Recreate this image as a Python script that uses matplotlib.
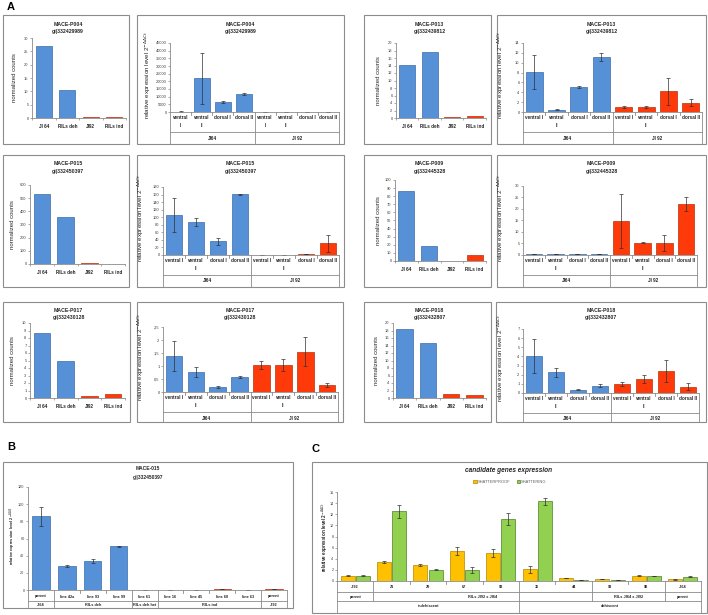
import numpy as np
import matplotlib
matplotlib.use('Agg')
import matplotlib.pyplot as plt
import matplotlib.transforms as mtrans
from matplotlib.patches import Rectangle
from matplotlib.ticker import FuncFormatter

plt.rcParams['font.family'] = ['Liberation Sans', 'DejaVu Sans']
plt.rcParams['mathtext.fontset'] = 'dejavusans'

# ---------------- data ----------------
count_categories = ['JI 64', 'RILs deh', 'JI92', 'RILs ind']
qpcr_tissues = ['ventral I', 'ventral\nII', 'dorsal I', 'dorsal II']
qpcr_tissues_narrow = ['ventral\nI', 'ventral\nII', 'dorsal I', 'dorsal II']
qpcr_parents = ['JI64', 'JI 92']

genes = ['MACE-P004', 'MACE-P013', 'MACE-P015', 'MACE-P009', 'MACE-P017', 'MACE-P018']
gene_ids = ['gi|332429989', 'gi|332439812', 'gi|332450397', 'gi|332445328',
            'gi|332430128', 'gi|332432807']

p004_counts = [27, 10.5, 0.4, 0.4]
p004_qpcr = [300, 22000, 6500, 11500, 150, 150, 150, 150]
p004_err = [80, 16500, 600, 700, 30, 30, 30, 30]

p013_counts = [14.2, 17.7, 0.3, 0.6]
p013_qpcr = [8.1, 0.5, 5.0, 11.1, 1.1, 1.0, 4.2, 1.9]
p013_err = [3.4, 0.05, 0.2, 0.8, 0.2, 0.15, 2.7, 0.7]

p015_counts = [535, 358, 6, 3]
p015_qpcr = [105, 87, 36, 161, 1, 1, 2, 31]
p015_err = [45, 10, 10, 1, 0.3, 0.3, 0.3, 22]

p009_counts = [87, 18, 0.5, 7]
p009_qpcr = [0.3, 0.3, 0.3, 0.3, 14.7, 5.3, 5.2, 22.1]
p009_err = [0.05, 0.05, 0.05, 0.05, 11.7, 0.3, 3.5, 3.0]

p017_counts = [8.7, 5.0, 0.3, 0.6]
p017_qpcr = [1.38, 0.78, 0.2, 0.58, 1.05, 1.03, 1.55, 0.27]
p017_err = [0.58, 0.2, 0.03, 0.04, 0.15, 0.23, 0.55, 0.08]

p018_counts = [18.5, 14.6, 1.1, 0.8]
p018_qpcr = [4.05, 2.25, 0.35, 0.8, 1.0, 1.55, 2.45, 0.7]
p018_err = [1.85, 0.5, 0.05, 0.15, 0.2, 0.45, 1.2, 0.35]

b_title = 'MACE-015'
b_gene_id = 'gi|332450397'
b_lines = ['parent', 'line 42a', 'line 93', 'line 99', 'line 61', 'line 16',
           'line 45', 'line 60', 'line 63', 'parent']
b_groups = ['JI64', 'RILs deh', 'RILs deh het', 'RILs ind', 'JI92']
b_values = [86, 28, 33.5, 51, 0.4, 0.3, 0.3, 1.0, 0.3, 0.9]
b_err = [11, 1, 2.5, 0.8, 0.05, 0.05, 0.05, 0.1, 0.05, 0.1]

c_title = 'candidate genes expression'
c_series = ['SHATTERPROOF', 'SHATTERING']
c_lines = ['JI92', '21', '29', '67', '93', '36', '44', '93', '98', 'JI64']
c_groups = ['parent', 'RILs JI92 x JI64', 'RILs JI64 x JI92', 'parent']
c_phenotypes = ['indehiscent', 'dehiscent']
c_shatterproof = [0.95, 3.4, 2.9, 5.4, 5.0, 2.1, 0.5, 0.35, 0.95, 0.3]
c_shatterproof_err = [0.05, 0.25, 0.15, 0.7, 0.7, 0.6, 0.05, 0.05, 0.05, 0.1]
c_shattering = [0.95, 12.5, 2.0, 2.0, 11.2, 14.3, 0.15, 0.15, 0.95, 0.75]
c_shattering_err = [0.05, 1.1, 0.1, 0.6, 1.1, 0.7, 0.02, 0.02, 0.03, 0.1]

# ---------------- style ----------------
W, H = 708, 615
BLUE, BLUE_E = '#5690D6', '#3C6CA8'
RED, RED_E = '#FF3A0A', '#B8300E'
YEL, YEL_E = '#FFC000', '#B38600'
GRN, GRN_E = '#92D050', '#4F7F2A'
GRID = '#8a8a8a'
TXT = '#262626'

fig = plt.figure(figsize=(W / 100, H / 100), dpi=100)


def fx(x):
    return x / W


def fy(y):
    return 1 - y / H


def box(x0, y0, x1, y1):
    fig.add_artist(Rectangle((fx(x0), fy(y1)), (x1 - x0) / W, (y1 - y0) / H,
                             transform=fig.transFigure, fill=False,
                             ec='#8c8c8c', lw=0.8))


def axes_px(x0, ytop, x1, ybot):
    return fig.add_axes([fx(x0), fy(ybot), (x1 - x0) / W, (ybot - ytop) / H])


def style_axes(ax, ymax, step, comma=False, fs=2.9):
    for s in ['top', 'right']:
        ax.spines[s].set_visible(False)
    for s in ['left', 'bottom']:
        ax.spines[s].set_color(GRID)
        ax.spines[s].set_linewidth(0.6)
    ax.set_ylim(0, ymax)
    ax.set_yticks(np.arange(0, ymax + step / 2, step))
    if comma:
        ax.yaxis.set_major_formatter(FuncFormatter(lambda v, p: ('%g' % v).replace('.', ',')))
    else:
        ax.yaxis.set_major_formatter(FuncFormatter(lambda v, p: '%g' % v))
    ax.tick_params(axis='y', length=1.5, width=0.5, color=GRID, labelsize=fs,
                   labelcolor='#404040', pad=1)
    ax.patch.set_alpha(0)


def titles(xc, y1, y2, t1, t2, fs=3.7):
    fig.text(fx(xc), fy(y1), t1, ha='center', va='center', fontsize=fs,
             fontweight='bold', color=TXT)
    fig.text(fx(xc), fy(y2), t2, ha='center', va='center', fontsize=fs,
             fontweight='bold', color=TXT)


def ylabel(x, yc, text, fs, bold=False):
    fig.text(fx(x), fy(yc), text, rotation=90, ha='center', va='center',
             fontsize=fs, color=TXT, fontweight='bold' if bold else 'normal')


def category_table(ax, levels, axis_y, label_y, hline_y, bottom_y, fs, n):
    tr = mtrans.blended_transform_factory(ax.transData, fig.transFigure)
    stops = [axis_y + 3] + list(hline_y[1:]) + [bottom_y]
    depth = {}
    for k, lev in enumerate(levels):
        for lab, s, e in lev:
            if k == 0:
                ax.text((s + e) / 2, fy(label_y[k]), lab, transform=tr, ha='center',
                        va='top', fontsize=fs, fontweight='bold', color=TXT,
                        linespacing=1.7, clip_on=False)
            else:
                ax.text((s + e) / 2, fy(label_y[k]), lab, transform=tr, ha='center',
                        va='center', fontsize=fs, fontweight='bold', color=TXT,
                        clip_on=False)
            depth[s] = k
            depth[e + 1] = k
    for b, k in depth.items():
        ax.plot([b - 0.5, b - 0.5], [fy(axis_y), fy(stops[k])], transform=tr,
                color=GRID, lw=0.6, clip_on=False)
    for y in hline_y:
        ax.plot([-0.5, n - 0.5], [fy(y), fy(y)], transform=tr, color=GRID,
                lw=0.6, clip_on=False)


def counts_panel(bx, rect, values, gi, ymax, step):
    box(*bx)
    ax = axes_px(*rect)
    x = np.arange(len(count_categories))
    ax.bar(x, values, width=0.7, color=[BLUE, BLUE, RED, RED],
           edgecolor=[BLUE_E, BLUE_E, RED_E, RED_E], lw=0.5)
    ax.set_xlim(-0.5, 3.5)
    style_axes(ax, ymax, step)
    ax.set_xticks(x)
    ax.set_xticklabels(count_categories, fontsize=3.3, fontweight='bold', color=TXT)
    ax.set_xticks(np.arange(-0.5, 4), minor=True)
    ax.tick_params(axis='x', which='major', length=0, pad=4.5)
    ax.tick_params(axis='x', which='minor', length=1.5, width=0.5, color=GRID)
    xc = (bx[0] + bx[2]) / 2 + 2
    titles(xc, bx[1] + 9, bx[1] + 16, genes[gi], gene_ids[gi])
    ylabel(rect[0] - 17, (rect[1] + rect[3]) / 2, 'normalized counts', 4.3)
    return ax


def qpcr_panel(bx, rect, values, err, gi, ymax, step, labels, comma=False):
    box(*bx)
    ax = axes_px(*rect)
    x = np.arange(8)
    ax.bar(x, values, width=0.76, color=[BLUE] * 4 + [RED] * 4,
           edgecolor=[BLUE_E] * 4 + [RED_E] * 4, lw=0.5)
    ax.errorbar(x, values, yerr=err, fmt='none', ecolor='#303030', elinewidth=0.5,
                capsize=1.2, capthick=0.5)
    ax.set_xlim(-0.5, 7.5)
    style_axes(ax, ymax, step, comma=comma)
    ax.set_xticks([])
    yb = rect[3]
    levels = [[(lab, i, i) for i, lab in enumerate(labels + labels)],
              [(qpcr_parents[0], 0, 3), (qpcr_parents[1], 4, 7)]]
    category_table(ax, levels, yb, [yb + 3, yb + 26], [yb + 20], bx[3] - 1, 3.3, 8)
    xc = (bx[0] + bx[2]) / 2
    titles(xc, bx[1] + 9, bx[1] + 16, genes[gi], gene_ids[gi])
    ylabel(rect[0] - 22, (rect[1] + rect[3]) / 2 - 3,
           r'relative expression level 2$^{-\Delta\Delta Ct}$', 4.5)
    return ax


# ---------------- panel A ----------------
fig.text(fx(11), fy(7), 'A', fontsize=8, fontweight='bold', ha='center', va='center')

counts_panel((3, 15, 129, 144), (32, 38, 126, 118), p004_counts, 0, 30, 5)
qpcr_panel((137, 15, 344, 144), (170, 43, 339, 112), p004_qpcr, p004_err, 0, 45000, 5000,
           qpcr_tissues_narrow)
counts_panel((364, 15, 491, 144), (396, 43, 486, 118), p013_counts, 1, 20, 2)
qpcr_panel((497, 15, 706, 144), (523, 43, 702, 112), p013_qpcr, p013_err, 1, 14, 2,
           qpcr_tissues)

counts_panel((3, 155, 129, 287), (30, 185, 125, 264), p015_counts, 2, 600, 100)
qpcr_panel((137, 155, 344, 287), (163, 187, 339, 255), p015_qpcr, p015_err, 2, 180, 20,
           qpcr_tissues)
counts_panel((364, 155, 491, 287), (395, 180, 486, 261), p009_counts, 3, 100, 10)
qpcr_panel((497, 155, 706, 287), (523, 186, 697, 255), p009_qpcr, p009_err, 3, 30, 5,
           qpcr_tissues)

counts_panel((3, 302, 130, 422), (30, 323, 125, 398), p017_counts, 4, 10, 1)
qpcr_panel((137, 302, 343, 422), (163, 327, 338, 392), p017_qpcr, p017_err, 4, 2.5, 0.5,
           qpcr_tissues, comma=True)
counts_panel((364, 302, 491, 422), (393, 323, 486, 398), p018_counts, 5, 20, 2)
qpcr_panel((496, 302, 706, 422), (523, 329, 699, 393), p018_qpcr, p018_err, 5, 7, 1,
           qpcr_tissues)

# ---------------- panel B ----------------
fig.text(fx(11), fy(447), 'B', fontsize=8, fontweight='bold', ha='center', va='center')
box(3, 462, 293, 608)
axb = axes_px(28, 487, 287, 590)
xb = np.arange(len(b_lines))
bcols = [BLUE] * 7 + [RED] + [BLUE, RED]
becols = [BLUE_E] * 7 + [RED_E] + [BLUE_E, RED_E]
axb.bar(xb, b_values, width=0.67, color=bcols, edgecolor=becols, lw=0.5)
axb.errorbar(xb, b_values, yerr=b_err, fmt='none', ecolor='#303030', elinewidth=0.5,
             capsize=1.2, capthick=0.5)
axb.set_xlim(-0.5, len(b_lines) - 0.5)
style_axes(axb, 120, 20, fs=2.7)
axb.set_xticks([])
b_spans = [(0, 0), (1, 3), (4, 4), (5, 8), (9, 9)]
category_table(axb,
               [[(lab, i, i) for i, lab in enumerate(b_lines)],
                [(g, s, e) for g, (s, e) in zip(b_groups, b_spans)]],
               590, [594.5, 605], [601], 607, 2.8, len(b_lines))
titles(148, 469, 477, b_title, b_gene_id, fs=3.5)
ylabel(13, 535, r'relative expression level 2$^{-\Delta\Delta Ct}$', 2.8, bold=True)

# ---------------- panel C ----------------
fig.text(fx(316), fy(449), 'C', fontsize=8, fontweight='bold', ha='center', va='center')
box(312, 462, 707, 613)
axc = axes_px(337, 492, 701, 581)
xc_ = np.arange(len(c_lines))
axc.bar(xc_ - 0.21, c_shatterproof, width=0.385, color=YEL, edgecolor=YEL_E, lw=0.5,
        label=c_series[0])
axc.bar(xc_ + 0.21, c_shattering, width=0.385, color=GRN, edgecolor=GRN_E, lw=0.5,
        label=c_series[1])
axc.errorbar(xc_ - 0.21, c_shatterproof, yerr=c_shatterproof_err, fmt='none',
             ecolor='#303030', elinewidth=0.5, capsize=1.2, capthick=0.5)
axc.errorbar(xc_ + 0.21, c_shattering, yerr=c_shattering_err, fmt='none',
             ecolor='#303030', elinewidth=0.5, capsize=1.2, capthick=0.5)
axc.set_xlim(-0.5, len(c_lines) - 0.5)
style_axes(axc, 16, 2, fs=2.7)
axc.set_xticks([])
c_spans = [(0, 0), (1, 6), (7, 8), (9, 9)]
p_spans = [(0, 4), (5, 9)]
category_table(axc,
               [[(lab, i, i) for i, lab in enumerate(c_lines)],
                [(g, s, e) for g, (s, e) in zip(c_groups, c_spans)],
                [(g, s, e) for g, (s, e) in zip(c_phenotypes, p_spans)]],
               581, [585.5, 597, 606], [592, 601], 612, 2.8, len(c_lines))
fig.text(fx(509), fy(470), c_title, ha='center', va='center', fontsize=4.7,
         fontweight='bold', fontstyle='italic', color=TXT)
leg = axc.legend(loc='center', bbox_to_anchor=(fx(510), fy(482)),
                 bbox_transform=fig.transFigure, ncol=2, frameon=False, fontsize=2.9,
                 handlelength=0.8, handleheight=0.8, handletextpad=0.3, columnspacing=1.5,
                 labelcolor='#606060')
ylabel(325, 537, r'relative expression level 2$^{-\Delta\Delta Ct}$', 3.3, bold=True)

fig.savefig('out.png', dpi=100)
